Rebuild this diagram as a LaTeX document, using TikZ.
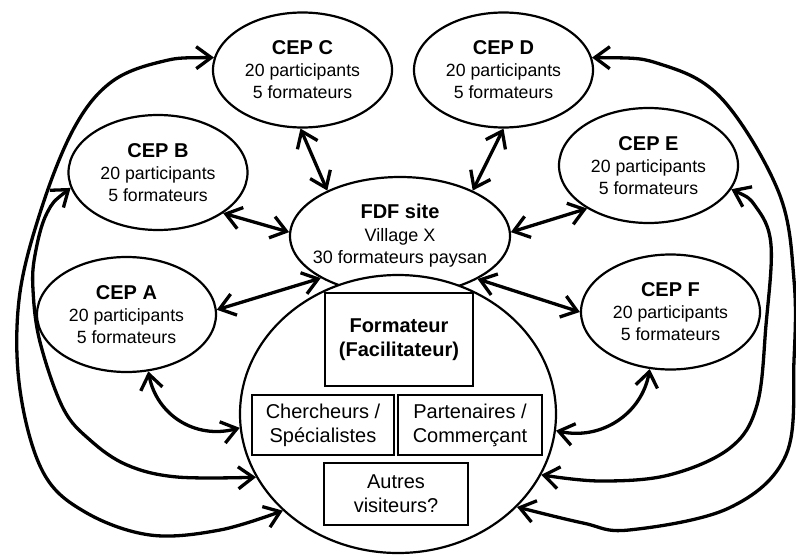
\documentclass[tikz,border=0pt]{standalone}
\usepackage{fontspec}
\setmainfont{Liberation Sans}
\usetikzlibrary{arrows.meta,shapes.geometric}
\newcommand{\ceptitle}[1]{{\fontsize{20}{22}\selectfont\bfseries #1}}
\begin{document}
\begin{tikzpicture}[x=1pt,y=-1pt,
  cepshape/.style={draw, line width=2.2pt, ellipse, minimum width=179pt, minimum height=115pt, inner sep=0pt},
  ceptext/.style={align=center, font=\fontsize{17.7}{22}\selectfont, inner sep=0pt},
  boxnode/.style={draw, line width=2.2pt, fill=white, inner sep=0pt, align=center, font=\fontsize{20}{24}\selectfont},
  arr/.style={line width=3.3pt, {Straight Barb[length=15pt,width=22pt]}-{Straight Barb[length=15pt,width=22pt]}},
]
\useasboundingbox (0,0) rectangle (796,555);

% CEP ellipses
\node[cepshape] (C) at (302.5,70) {};
\node[ceptext] at (C) {\ceptitle{CEP C}\\20 participants\\5 formateurs};
\node[cepshape] (D) at (503.5,70) {};
\node[ceptext] at (D) {\ceptitle{CEP D}\\20 participants\\5 formateurs};
\node[cepshape] (B) at (158,172.5) {};
\node[ceptext] at (B) {\ceptitle{CEP B}\\20 participants\\5 formateurs};
\node[cepshape] (E) at (648.5,165.5) {};
\node[ceptext] at (E) {\ceptitle{CEP E}\\20 participants\\5 formateurs};
\node[cepshape] (A) at (126.5,314.5) {};
\node[ceptext] at (A) {\ceptitle{CEP A}\\20 participants\\5 formateurs};
\node[cepshape] (F) at (670.5,312) {};
\node[ceptext] at (F) {\ceptitle{CEP F}\\20 participants\\5 formateurs};

% FDF site
\node[cepshape, minimum width=220pt, minimum height=118pt] (FDF) at (400,236) {};
\node[ceptext, font=\fontsize{18}{22.5}\selectfont] at (FDF) {\ceptitle{FDF site}\\Village X\\30 formateurs paysan};

% big circle
\node[draw, line width=2.2pt, ellipse, fill=white, minimum width=316pt, minimum height=278pt, inner sep=0pt] (G) at (398,414) {};

% boxes
\node[boxnode, minimum width=148pt, minimum height=93pt] (fac) at (399,339.5) {\textbf{Formateur}\\\textbf{(Facilitateur)}};
\node[boxnode, minimum width=142pt, minimum height=60pt] (cher) at (323,425) {Chercheurs /\\Spécialistes};
\node[boxnode, minimum width=144pt, minimum height=60pt] (part) at (470,425) {Partenaires /\\Commerçant};
\node[boxnode, minimum width=144pt, minimum height=62pt] (aut) at (396,494) {Autres\\visiteurs?};

% straight arrows
\draw[arr] (C.-92) -- (FDF.148);
\draw[arr] (D.-90) -- (FDF.32);
\draw[arr] (B.-32) -- (FDF.178);
\draw[arr] (E.-145) -- (FDF.2);
\draw[arr] (A.3) -- (FDF.-152);
\draw[arr] (F.180) -- (FDF.-29);

% short curves
\draw[arr] (A.-69) .. controls +(8,43) and +(-45,12) .. (G.185);
\draw[arr] (F.-110) .. controls +(-8,45) and +(45,10) .. (G.-6);

% long curves
\draw[arr] plot[smooth, tension=0.6] coordinates {(C.172) (160,62) (110,83) (73,130) (40,213) (19,300) (20,390) (43,472) (85,512) (150,535) (220,530) (G.-140)};
\draw[arr] plot[smooth, tension=0.6] coordinates {(B.-170) (47,213) (35,255) (33,290) (40,342) (63,408) (90,440) (127,465) (177,477) (G.-156)};
\draw[arr] plot[smooth, tension=0.6] coordinates {(D.8) (663,65) (723,100) (779,193) (794,280) (794,360) (786,455) (729,508) (629,530) (583,523) (G.-38)};
\draw[arr] plot[smooth, tension=0.6] coordinates {(E.-16) (756,207) (771,245) (766,325) (757,405) (730,448) (669,475) (600,481) (G.-23)};
\end{tikzpicture}
\end{document}
